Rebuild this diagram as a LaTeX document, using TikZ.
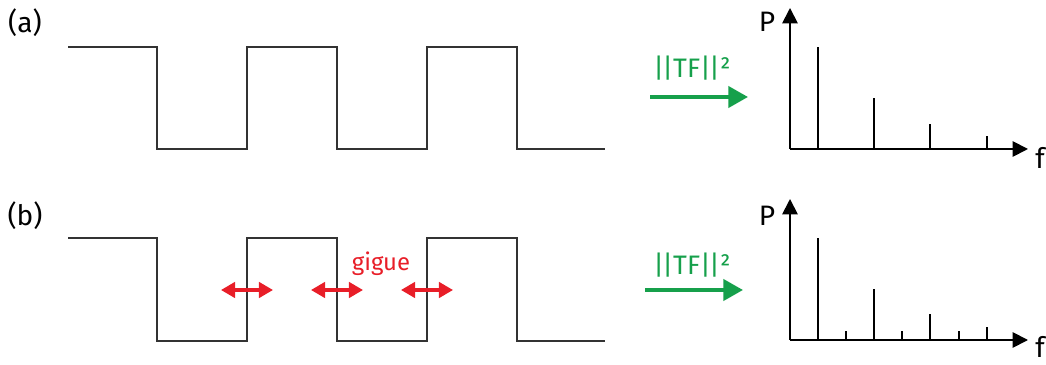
\documentclass[tikz,border=0pt]{standalone}
\usepackage{fontspec}
\setmainfont{Fira Sans}
\usetikzlibrary{arrows.meta,positioning}
\definecolor{tfgreen}{RGB}{22,160,75}
\definecolor{jitred}{RGB}{232,30,40}
\newcommand{\nrm}{|\kern-1.2pt|}
\tikzset{
  sigline/.style={line width=1pt, draw=black!80},
  panlabel/.style={font=\fontsize{20}{24}\selectfont, inner sep=0pt},
  axlabel/.style={font=\fontsize{20}{24}\selectfont, inner sep=0pt},
  tfarrow/.style={-{Triangle[length=14pt,width=15pt]}, line width=2.8pt, draw=tfgreen},
  tflabel/.style={font=\fontsize{19}{22}\selectfont, text=tfgreen, inner sep=0pt},
  jitarrow/.style={{Triangle[length=10pt,width=11pt]}-{Triangle[length=10pt,width=11pt]}, line width=2.2pt, draw=jitred},
  jitlabel/.style={font=\fontsize{17}{20}\selectfont, text=jitred, inner sep=0pt},
  axarrow/.style={-{Triangle[length=11pt,width=11pt]}, line width=1.3pt},
  stemline/.style={line width=1pt},
}

\begin{document}
\begin{tikzpicture}[x=0.025cm, y=-0.025cm]
  \useasboundingbox (0,0) rectangle (1046,365);

  % (a) clean square wave
  \node[panlabel] (laba) at (25,23) {(a)};
  \draw[sigline] (68,47) -- (157,47) -- (157,149) -- (247,149) -- (247,47) -- (337,47)
    -- (337,149) -- (427,149) -- (427,47) -- (517,47) -- (517,149) -- (605,149);

  \coordinate (tfa0) at (650,97);
  \coordinate (tfa1) at (748,97);
  \draw[tfarrow] (tfa0) -- (tfa1);
  \node[tflabel] (tfla) at (692,68) {\nrm TF\nrm²};

  \coordinate (oa) at (790,149);
  \coordinate (ya) at (790,8);
  \coordinate (xa) at (1028,149);
  \draw[axarrow] (oa) -- (ya);
  \draw[axarrow] (oa) -- (xa);
  \node[axlabel] (pa) at (767,22) {P};
  \node[axlabel] (fa) at (1040,158) {f};
  \foreach \x/\h in {818/47, 874/98, 930/124, 987/136}
    \draw[stemline] (\x,149) -- (\x,\h);

  % (b) square wave with jitter
  \node[panlabel] (labb) at (25,216) {(b)};
  \draw[sigline] (68,238) -- (157,238) -- (157,341) -- (247,341) -- (247,238) -- (337,238)
    -- (337,341) -- (427,341) -- (427,238) -- (517,238) -- (517,341) -- (605,341);

  \coordinate (j1l) at (221,290);
  \coordinate (j1r) at (273,290);
  \coordinate (j2l) at (311,290);
  \coordinate (j2r) at (363,290);
  \coordinate (j3l) at (401,290);
  \coordinate (j3r) at (453,290);
  \draw[jitarrow] (j1l) -- (j1r);
  \draw[jitarrow] (j2l) -- (j2r);
  \draw[jitarrow] (j3l) -- (j3r);
  \node[jitlabel] (gig) at (381,264) {gigue};

  \coordinate (tfb0) at (645,290);
  \coordinate (tfb1) at (743,290);
  \draw[tfarrow] (tfb0) -- (tfb1);
  \node[tflabel] (tflb) at (692,265) {\nrm TF\nrm²};

  \coordinate (ob) at (790,340);
  \coordinate (yb) at (790,199);
  \coordinate (xb) at (1028,340);
  \draw[axarrow] (ob) -- (yb);
  \draw[axarrow] (ob) -- (xb);
  \node[axlabel] (pb) at (767,216) {P};
  \node[axlabel] (fb) at (1040,347) {f};
  \foreach \x/\h in {818/238, 846/331, 874/289, 902/331, 930/314, 959/331, 987/327}
    \draw[stemline] (\x,340) -- (\x,\h);
\end{tikzpicture}
\end{document}
